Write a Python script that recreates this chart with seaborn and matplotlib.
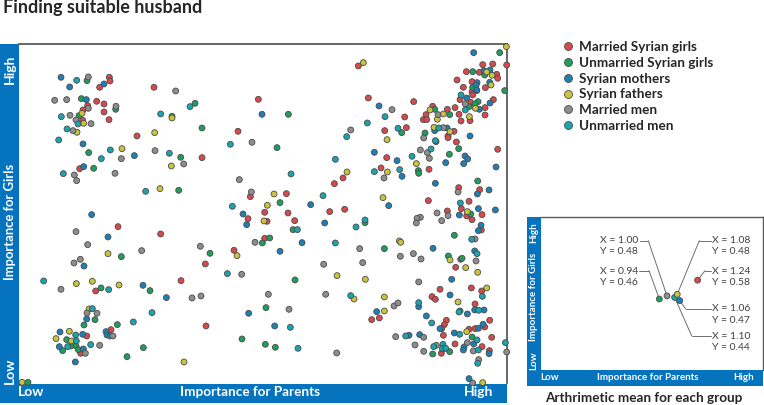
import matplotlib
matplotlib.use("Agg")
import matplotlib.pyplot as plt
from matplotlib.lines import Line2D
import pandas as pd
import seaborn as sns

W, H = 764, 405

groups = ["Married Syrian girls", "Unmarried Syrian girls", "Syrian mothers",
          "Syrian fathers", "Married men", "Unmarried men"]
colors = ["#D9484C", "#1F9D5E", "#1C80B6", "#C8C43C", "#8E8C8C", "#18A4B0"]

# importance scores, in the panel's own arbitrary units
married_girls = [(328,918),(330,907),(299,888),(462,888),(290,846),(312,838),(263,833),(249,820),(312,814),(248,789),
    (327,791),(411,742),(239,644),(606,677),(714,756),(775,852),(751,560),(744,494),(354,470),(482,448),(702,399),
    (616,358),(543,308),(287,277),(618,172),(333,161),(260,142),(242,90),(1075,952),(1520,955),(1448,956),(1478,958),
    (1399,935),(1438,933),(1490,927),(1493,915),(1371,910),(1416,905),(1390,888),(1456,887),(1416,875),(1430,878),
    (1418,865),(1105,856),(1241,845),(1380,851),(1480,851),(1412,843),(1298,831),(1365,827),(1342,822),(1455,827),
    (1278,806),(1377,807),(1455,805),(1214,799),(1270,791),(1280,791),(1383,787),(1410,788),(1154,758),(1219,767),
    (1362,756),(1344,742),(1344,737),(1369,724),(1493,702),(1160,677),(1143,646),(1287,642),(1029,616),(1003,599),
    (859,569),(1376,587),(1439,581),(1285,548),(1407,546),(794,513),(864,511),(989,515),(1034,522),(1384,524),
    (1342,517),(1446,506),(1400,502),(1416,491),(801,486),(884,488),(794,435),(1444,460),(1382,372),(1367,348),
    (1320,282),(1414,286),(1445,277),(1296,260),(1306,252),(1425,238),(1115,191),(1138,196),(1339,189),(1333,176),
    (1325,164),(1407,162),(1425,164),(1454,169),(1469,189),(1330,144),(1475,138),(1365,118),(1446,110),(1468,98),(1324,90)]
unmarried_girls = [(261,908),(244,854),(347,822),(237,803),(266,692),(281,645),(585,840),(516,801),(606,766),(542,678),
    (536,579),(364,380),(630,390),(303,286),(450,278),(285,191),(252,175),(352,176),(200,131),(188,98),(213,112),
    (228,112),(235,101),(430,107),(381,80),(726,133),(84,3),(1499,992),(1418,935),(1454,925),(1418,888),(1514,878),
    (1434,845),(1425,838),(1407,830),(1304,822),(1349,806),(1275,751),(1205,752),(1308,725),(1376,704),(1348,687),
    (1255,638),(1256,630),(1433,607),(840,542),(865,807),(831,707),(1412,508),(879,461),(809,436),(787,421),(1095,482),
    (1363,444),(1153,404),(1345,382),(1386,375),(885,310),(798,227),(1380,217),(796,117),(826,108),(1416,139),(1298,88),
    (1349,95),(1329,103)]
mothers = [(183,918),(209,889),(312,898),(259,851),(249,718),(403,683),(251,650),(275,506),(729,508),(324,439),(252,352),
    (429,294),(499,257),(746,210),(180,154),(248,147),(318,155),(321,145),(330,142),(178,110),(250,103),(226,64),(260,193),
    (740,476),(1421,992),(1452,938),(1470,940),(1431,902),(1428,894),(1469,903),(1430,880),(1400,856),(1438,822),(1470,841),
    (1137,832),(1341,766),(1304,758),(1410,742),(1123,693),(1191,668),(1395,682),(1403,673),(1337,662),(1391,659),(1488,649),
    (1206,621),(1306,600),(1432,568),(1467,580),(1166,533),(932,536),(1435,524),(1486,520),(1378,505),(786,807),(974,481),
    (1443,474),(1435,458),(840,396),(906,422),(1299,405),(1424,397),(1355,312),(1350,265),(1256,230),(1130,215),(824,172),
    (1279,202),(1402,208),(1424,220),(1452,220),(1449,177),(1320,164),(1435,165),(1227,144),(1259,146),(1363,151),(1392,109),
    (1390,100),(1421,118),(1467,89),(1407,14)]
fathers = [(246,810),(251,780),(231,753),(366,704),(516,796),(464,752),(514,652),(480,584),(324,389),(711,383),(229,299),
    (277,306),(357,295),(267,223),(208,156),(168,134),(214,127),(552,64),(66,3),(1519,1010),(1090,962),(1460,934),(1476,924),
    (1473,895),(1290,820),(1330,808),(1312,792),(1408,800),(1426,825),(1302,768),(1350,755),(1161,731),(1249,659),(1162,634),
    (1041,634),(822,568),(802,534),(1149,557),(1402,515),(792,487),(1198,427),(1202,423),(1350,370),(1397,347),(1433,333),
    (1011,323),(1096,312),(1153,259),(1062,253),(1153,217),(1374,244),(1460,286),(1400,155),(1448,2)]
married_men = [(265,919),(164,849),(200,851),(265,825),(348,831),(210,804),(228,790),(273,779),(219,758),(364,674),(223,625),
    (230,608),(345,630),(527,877),(465,698),(551,658),(756,723),(718,611),(754,574),(228,455),(263,416),(241,372),(222,361),
    (425,398),(601,411),(765,423),(725,327),(183,282),(576,256),(603,262),(261,211),(291,210),(339,142),(299,114),(256,90),
    (1176,821),(1314,806),(1396,838),(1052,760),(1330,767),(1271,736),(1261,700),(1282,692),(1288,675),(1152,616),(1374,574),
    (1311,511),(1344,503),(1261,498),(1251,495),(1249,481),(1325,488),(1425,433),(1079,404),(971,357),(1088,362),(1201,381),
    (1240,389),(1263,373),(1428,367),(1256,304),(805,267),(977,267),(867,222),(1182,232),(1194,241),(1187,140),(1271,138),
    (1245,115),(1309,114),(1271,96),(1402,122),(1420,97),(1010,91),(1520,94),(1436,71),(1418,1)]
unmarried_men = [(230,909),(184,800),(234,778),(201,763),(176,730),(331,700),(304,674),(190,629),(482,808),(570,830),(508,690),
    (437,576),(691,717),(697,531),(131,307),(326,281),(682,329),(456,212),(400,184),(277,224),(227,145),(229,127),(203,110),
    (272,116),(1383,865),(1396,820),(1155,800),(1102,781),(1194,765),(1316,766),(1040,740),(1306,728),(1293,703),(1236,681),
    (1006,672),(1123,635),(1199,641),(873,628),(969,563),(1381,541),(1095,490),(892,461),(1068,469),(1006,421),(1415,432),
    (1431,389),(1052,263),(1447,261),(1256,242),(1377,214),(1436,219),(871,168),(1295,181),(1217,142),(1379,147),(1431,130),
    (1301,110),(1329,117),(1327,104),(1337,105),(894,105),(1435,100),(1516,122),(1433,60)]

# group means: green, gray, teal, yellow, blue, red
mean_groups = ["Unmarried Syrian girls", "Married men", "Unmarried men", "Syrian fathers", "Syrian mothers", "Married Syrian girls"]
mean_x = [0.94, 1.00, 1.06, 1.08, 1.10, 1.24]
mean_y = [0.46, 0.48, 0.47, 0.49, 0.45, 0.58]

BAND = "#0673BE"
EDGE = "#4A4A4A"
FRAME = "#5A5A5A"

sns.set_theme(style="white")
plt.rcParams["font.family"] = ["Lato", "DejaVu Sans"]


def px_axes(fig, left, top, right, bottom):
    return fig.add_axes([left / W, 1 - bottom / H, (right - left) / W, (bottom - top) / H])


def px_text(fig, x, y, s, **kw):
    return fig.text(x / W, 1 - y / H, s, **kw)


def band(fig, left, top, right, bottom):
    fig.add_artist(plt.Rectangle((left / W, 1 - bottom / H), (right - left) / W, (bottom - top) / H,
                                 transform=fig.transFigure, facecolor=BAND, edgecolor="none", zorder=0))


def style_panel(ax, xlim, ylim, lw):
    ax.set_xlim(*xlim)
    ax.set_ylim(*ylim)
    ax.set(xlabel="", ylabel="", xticks=[], yticks=[])
    ax.patch.set_alpha(0)
    for side in ["top", "right"]:
        ax.spines[side].set_color(FRAME)
        ax.spines[side].set_linewidth(lw)
    for side in ["left", "bottom"]:
        ax.spines[side].set_visible(False)


fig = plt.figure(figsize=(W / 100, H / 100), dpi=100)

px_text(fig, 3, 7, "Finding suitable husband", fontsize=13, fontweight="bold", color="#262626", va="center")

# main panel
band(fig, 0, 44, 19, 403)
band(fig, 0, 383.5, 506.5, 403)
ax = px_axes(fig, 19, 44.3, 506.7, 383.3)

series = [married_girls, unmarried_girls, mothers, fathers, married_men, unmarried_men]
frames = []
for name, pts in zip(groups, series):
    frames.append(pd.DataFrame(pts, columns=["parents", "girls"]).assign(group=name))
df = pd.concat(frames, ignore_index=True)

sns.scatterplot(data=df, x="parents", y="girls", hue="group", hue_order=groups, palette=colors,
                s=18, edgecolor=EDGE, linewidth=0.6, clip_on=False, zorder=3, ax=ax)
style_panel(ax, (57, 1520), (0, 1017), 1.3)

sns.move_legend(ax, "upper left", bbox_to_anchor=(555 / W, 1 - 41 / H), bbox_transform=fig.transFigure,
                title=None, frameon=False, fontsize=9.7, labelspacing=0.28, handletextpad=-0.2,
                borderpad=0, borderaxespad=0, markerscale=1.35)
for t in ax.get_legend().get_texts():
    t.set_fontweight("bold")
    t.set_color("#262626")

white = dict(color="white", fontweight="bold", ha="center", va="center")
px_text(fig, 10, 69, "High", fontsize=10, rotation=90, **white)
px_text(fig, 10, 222, "Importance for Girls", fontsize=9.4, rotation=90, **white)
px_text(fig, 10, 371, "Low", fontsize=10, rotation=90, **white)
px_text(fig, 31, 392.5, "Low", fontsize=10, **white)
px_text(fig, 250, 392.5, "Importance for Parents", fontsize=9.7, **white)
px_text(fig, 479, 392.5, "High", fontsize=10, **white)

# means panel
band(fig, 527, 217, 541, 385.5)
band(fig, 527, 370, 763, 385.5)
ax2 = px_axes(fig, 541, 217, 763, 370)
means = pd.DataFrame({"x": mean_x, "y": mean_y, "group": mean_groups})
sns.scatterplot(data=means, x="x", y="y", hue="group", palette=dict(zip(groups, colors)), s=18,
                edgecolor=EDGE, linewidth=0.6, legend=False, zorder=3, ax=ax2)
style_panel(ax2, (0.013, 1.752), (0.008, 0.982), 1.0)

# label text, its column, leader start and elbow (figure pixels), target mean index
labels = [
    ("X = 1.00\nY = 0.48", 600.5, 246, (640, 240.7), (648.3, 240.7), 1),
    ("X = 0.94\nY = 0.46", 600.5, 277, (639.3, 270.7), (649, 270.7), 0),
    ("X = 1.08\nY = 0.48", 712.5, 246, (710.7, 240.7), (699.3, 240.7), 3),
    ("X = 1.24\nY = 0.58", 712.5, 277, (710.7, 270.7), (705, 270.7), 5),
    ("X = 1.06\nY = 0.47", 712.5, 314.5, (710.7, 309), (685.7, 309), 4),
    ("X = 1.10\nY = 0.44", 712.5, 342, (710.7, 336), (691.7, 336), 2),
]
for txt, tx, ty, start, elbow, idx in labels:
    px_text(fig, tx, ty, txt, fontsize=7.5, color="#404040", va="center", ha="left", linespacing=1.3)
    fig.add_artist(Line2D([start[0] / W, elbow[0] / W], [1 - start[1] / H, 1 - elbow[1] / H],
                          transform=fig.transFigure, color="#6E6E6E", lw=0.7))
    ax2.annotate("", xy=(mean_x[idx], mean_y[idx]), xycoords="data",
                 xytext=(elbow[0], H - elbow[1]), textcoords="figure pixels",
                 arrowprops=dict(arrowstyle="-", color="#6E6E6E", lw=0.7, shrinkA=0, shrinkB=0), zorder=2)

px_text(fig, 533.5, 233, "High", fontsize=7, rotation=90, **white)
px_text(fig, 533.5, 297, "Importance for Girls", fontsize=7, rotation=90, **white)
px_text(fig, 533.5, 361, "Low", fontsize=7, rotation=90, **white)
px_text(fig, 550, 377.7, "Low", fontsize=7, **white)
px_text(fig, 648, 377.7, "Importance for Parents", fontsize=7, **white)
px_text(fig, 744, 377.7, "High", fontsize=7, **white)

px_text(fig, 644, 398, "Arthrimetic mean for each group", fontsize=9.7, fontweight="bold",
        color="#262626", ha="center", va="center")

fig.savefig("out.png", dpi=100)
